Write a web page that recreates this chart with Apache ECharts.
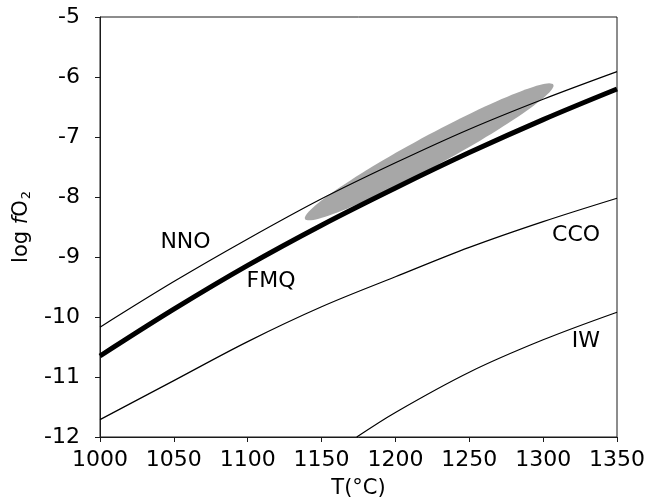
<!DOCTYPE html>
<html>
<head>
<meta charset="utf-8">
<script src="https://cdn.jsdelivr.net/npm/echarts@6/dist/echarts.min.js"></script>
<style>html,body{margin:0;padding:0;background:#fff}#c{width:649px;height:502px}</style>
</head>
<body>
<div id="c"></div>
<script>
// Temperatures (°C)
var temps = [1000, 1050, 1100, 1150, 1200, 1250, 1300, 1350];
// log fO2 buffers
var nno = [-10.17, -9.41, -8.70, -8.03, -7.43, -6.87, -6.37, -5.91];
var fmq = [-10.65, -9.87, -9.14, -8.47, -7.85, -7.26, -6.71, -6.20];
var cco = [-11.71, -11.06, -10.41, -9.83, -9.33, -8.84, -8.41, -8.02];
var iwTemps = [1173.8, 1200, 1250, 1300, 1350];
var iw = [-12.0, -11.59, -10.92, -10.38, -9.92];
// grey field (ellipse): two ends of long axis and one point on its upper edge
var ellipseEndA = [1138.8, -8.367];
var ellipseEndB = [1306.9, -6.128];
var ellipseEdge = [1218.1, -7.02];
// curve labels
var labelNames = ['NNO', 'FMQ', 'CCO', 'IW'];
var labelPos = [[1057.9, -8.753], [1115.8, -9.412], [1322.3, -8.645], [1329.0, -10.407]];
// axis ticks
var xTicks = {min: 1000, max: 1350, step: 50};
var yTicks = {min: -12, max: -5, step: 1};

function pairs(xs, ys) { return xs.map(function (x, i) { return [x, ys[i]]; }); }

var FONT = 'DejaVu Sans';
var chart = echarts.init(document.getElementById('c'), null, {renderer: 'canvas'});

var lineBase = {type: 'line', symbol: 'none', smooth: 0.35, z: 3, silent: true};

var option = {
  backgroundColor: '#fff',
  animation: false,
  grid: {left: 100, right: 32, top: 17, bottom: 65, containLabel: false, outerBoundsMode: 'none',
    show: true, borderColor: '#1a1a1a', borderWidth: 1, backgroundColor: 'transparent'},
  xAxis: {
    type: 'value', min: xTicks.min, max: xTicks.max, interval: xTicks.step,
    name: 'T(°C)', nameLocation: 'middle', nameGap: 41,
    nameTextStyle: {fontFamily: FONT, fontSize: 21, color: '#000'},
    axisLine: {show: true, lineStyle: {color: '#1a1a1a', width: 1}},
    axisTick: {show: true, inside: false, length: 5, lineStyle: {color: '#1a1a1a'}},
    axisLabel: {fontFamily: FONT, fontSize: 22, color: '#000', margin: 12,
      formatter: function (v) { return String(v); }},
    splitLine: {show: false}
  },
  yAxis: {
    type: 'value', min: yTicks.min, max: yTicks.max, interval: yTicks.step,
    name: '{a|log }{i|f}{a|O}{s|2}', nameLocation: 'middle', nameGap: 60, nameRotate: 90,
    nameTextStyle: {
      fontFamily: FONT, fontSize: 21, color: '#000',
      rich: {
        a: {fontFamily: FONT, fontSize: 21, color: '#000'},
        i: {fontFamily: FONT, fontSize: 21, fontStyle: 'italic', color: '#000'},
        s: {fontFamily: FONT, fontSize: 13, color: '#000', verticalAlign: 'bottom', padding: [10, 0, 0, 1]}
      }
    },
    axisLine: {show: true, lineStyle: {color: '#1a1a1a', width: 1}},
    axisTick: {show: true, inside: false, length: 5, lineStyle: {color: '#1a1a1a'}},
    axisLabel: {fontFamily: FONT, fontSize: 22, color: '#000', margin: 20,
      formatter: function (v) { return String(v); }},
    splitLine: {show: false}
  },
  series: [
    {
      type: 'custom', z: 1, silent: true,
      data: [ellipseEndA.concat(ellipseEndB, ellipseEdge)],
      encode: {x: [0, 2, 4], y: [1, 3, 5]},
      renderItem: function (params, api) {
        var p1 = api.coord([api.value(0), api.value(1)]);
        var p2 = api.coord([api.value(2), api.value(3)]);
        var p3 = api.coord([api.value(4), api.value(5)]);
        var cx = (p1[0] + p2[0]) / 2, cy = (p1[1] + p2[1]) / 2;
        var dx = p2[0] - p1[0], dy = p2[1] - p1[1];
        var len = Math.sqrt(dx * dx + dy * dy);
        var a = len / 2;
        var ux = dx / len, uy = dy / len;
        var b = Math.abs((p3[0] - cx) * (-uy) + (p3[1] - cy) * ux);
        var pts = [];
        for (var k = 0; k < 120; k++) {
          var t = k / 120 * Math.PI * 2;
          var ex = a * Math.cos(t), ey = b * Math.sin(t);
          pts.push([cx + ex * ux - ey * uy, cy + ex * uy + ey * ux]);
        }
        return {type: 'polygon', shape: {points: pts}, style: {fill: '#a7a7a7', stroke: null}};
      }
    },
    Object.assign({}, lineBase, {name: 'NNO', data: pairs(temps, nno), lineStyle: {color: '#000', width: 1.2}}),
    Object.assign({}, lineBase, {name: 'FMQ', data: pairs(temps, fmq), lineStyle: {color: '#000', width: 5}}),
    Object.assign({}, lineBase, {name: 'CCO', data: pairs(temps, cco), lineStyle: {color: '#000', width: 1.2}}),
    Object.assign({}, lineBase, {name: 'IW', data: pairs(iwTemps, iw), lineStyle: {color: '#000', width: 1.2}}),
    {
      type: 'scatter', z: 4, silent: true, symbolSize: 0,
      itemStyle: {opacity: 1},
      data: labelPos.map(function (p, i) { return {name: labelNames[i], value: p}; }),
      label: {
        show: true, position: [0, 0], align: 'center', verticalAlign: 'middle',
        formatter: function (p) { return p.name; },
        fontFamily: FONT, fontSize: 22, color: '#000', opacity: 1,
        textBorderWidth: 0
      }
    }
  ]
};
chart.setOption(option);
</script>
</body>
</html>
